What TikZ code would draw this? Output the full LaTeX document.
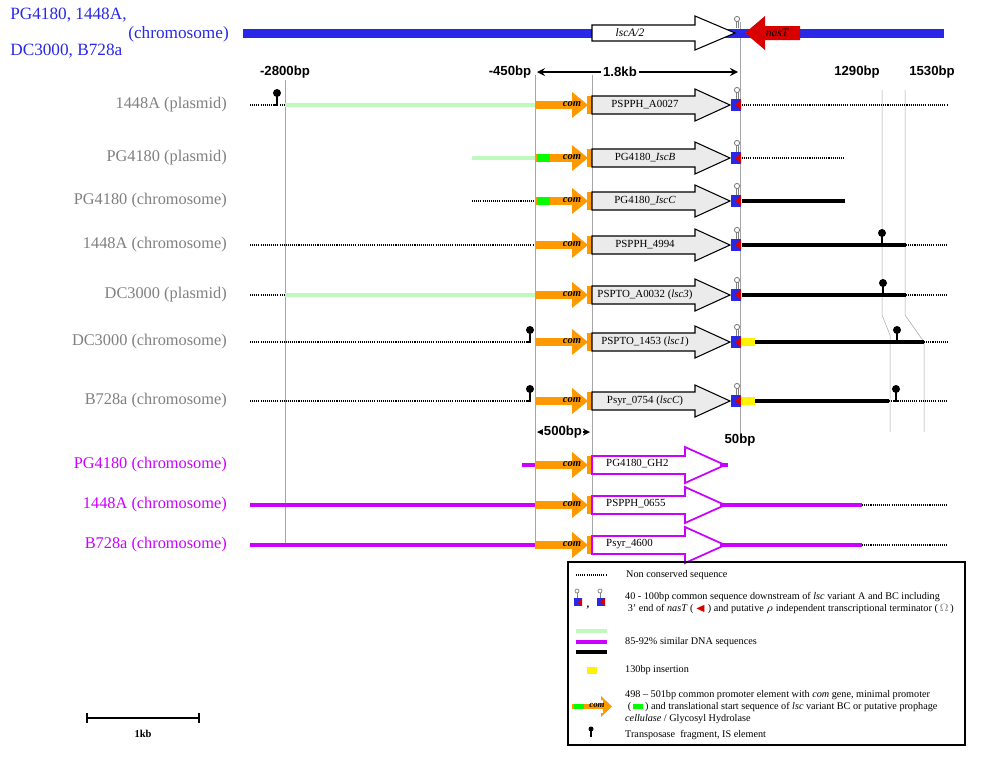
\documentclass[tikz,border=0pt]{standalone}
\usepackage{amssymb}
\usepackage{fontspec}
\setmainfont{Liberation Serif}
\newfontfamily\sansf{Liberation Sans}
\definecolor{lg}{RGB}{190,250,190}
\definecolor{org}{RGB}{255,153,0}
\definecolor{mag}{RGB}{204,0,255}
\definecolor{blu}{RGB}{40,40,230}
\definecolor{lab}{RGB}{128,128,128}
\definecolor{ggray}{RGB}{235,235,235}
\tikzset{
 dot/.style={line width=1.4pt,dash pattern=on 0.6pt off 0.6pt},
 lgl/.style={lg,line width=2pt},
 blk/.style={black,line width=2pt},
 magl/.style={mag,line width=2pt},
 guide/.style={gray!70,line width=0.3pt},
 rowlab/.style={anchor=east,font=\fontsize{9.3}{10}\selectfont,text=lab},
 bp/.style={font=\sansf\bfseries\fontsize{7.5}{8}\selectfont},
 glab/.style={font=\fontsize{6.2}{7}\selectfont},
 leg/.style={anchor=west,font=\fontsize{5.8}{7}\selectfont,align=left},
}
\newcommand\gArrow[4]{% y, label, fill, draw
 \draw[#4,fill=#3,line width=0.6pt] (592,{#1-9})--(695,{#1-9})--(695,{#1-16})--(730,#1)--(695,{#1+16})--(695,{#1+9})--(592,{#1+9})--cycle;
 \node[glab] at (645,#1) {#2};}
\newcommand\mArrow[2]{%
 \draw[mag,fill=white,line width=1pt] (592,{#1-9})--(685,{#1-9})--(685,{#1-18})--(725,#1)--(685,{#1+18})--(685,{#1+9})--(592,{#1+9})--cycle;
 \node[glab,anchor=west] at (600,{#1-1}) {#2};}
\newcommand\comEl[1]{%
 \fill[org] (535,{#1-4}) rectangle (574,{#1+4});
 \fill[org] (572,{#1-4})--(572,{#1-13})--(588,#1)--(572,{#1+13})--(572,{#1+4})--cycle;
 \fill[org] (587,{#1-9}) rectangle (592,{#1+9});
 \node[font=\itshape\bfseries\fontsize{6}{6}\selectfont] at (572,{#1-1}) {com};}
\newcommand\termEl[1]{%
 \fill[blu] (731,{#1-6}) rectangle (741,{#1+6});
 \fill[red!85!black] (741,{#1-5})--(735,#1)--(741,{#1+5})--cycle;
 \draw[gray,line width=0.5pt] (736,{#1-6})--(736,{#1-13}) (738,{#1-6})--(738,{#1-13});
 \draw[gray,fill=white,line width=0.5pt] (737,{#1-15}) circle (2.6);}
\newcommand\pin[2]{%
 \draw[line width=1.2pt] ({#1-3},#2)--(#1,#2)--(#1,{#2-10});
 \fill (#1,{#2-12}) circle (4);}
\begin{document}
\begin{tikzpicture}[x=0.02cm,y=-0.02cm]
\useasboundingbox (0,0) rectangle (1000,758);
\fill[white] (0,0) rectangle (1000,758);
% guides
\draw[guide] (285,80)--(285,545);
\draw[guide] (535,75)--(535,545);
\draw[guide] (592,75)--(592,545);
\draw[guide] (740,22)--(740,440);
\draw[guide] (882,90)--(882,315)--(890,335)--(890,432);
\draw[guide] (905,90)--(905,315)--(924,342)--(924,432);
% top chromosome
\node[anchor=west,text=blu,font=\fontsize{9.8}{11}\selectfont,inner sep=0] at (10,15) {PG4180, 1448A,};
\node[anchor=west,text=blu,font=\fontsize{9.8}{11}\selectfont,inner sep=0] at (10,51) {DC3000, B728a};
\node[anchor=west,text=blu,font=\fontsize{9.8}{11}\selectfont,inner sep=0] at (128,34) {(chromosome)};
\fill[blu] (243,29) rectangle (944,38);
\draw[black,fill=white,line width=0.6pt] (592,25)--(695,25)--(695,16)--(735,33)--(695,50)--(695,41)--(592,41)--cycle;
\node[glab,font=\itshape\fontsize{6.5}{7}\selectfont] at (630,33) {lscA/2};
\fill[red!85!black] (800,26)--(765,26)--(765,16)--(745,33)--(765,50)--(765,40)--(800,40)--cycle;
\node[font=\itshape\fontsize{6.5}{7}\selectfont] at (777,33) {nasT};
\draw[gray,line width=0.5pt] (736,28)--(736,21) (738,28)--(738,21);
\draw[gray,fill=white,line width=0.5pt] (737,19) circle (2.6);
% scale labels
\node[bp] at (285,72) {-2800bp};
\node[bp] at (510,72) {-450bp};
\node[bp] at (857,72) {1290bp};
\node[bp] at (932,72) {1530bp};
\draw[<->,>=stealth,line width=1pt] (537,72)--(738,72);
\node[bp,fill=white,inner sep=1pt] at (620,72) {1.8kb};
% rows
\node[rowlab] at (233,105) {1448A (plasmid)};
\draw[dot] (250,105)--(285,105); \draw[lgl] (285,105)--(535,105);
\pin{277}{105}
\comEl{105}\gArrow{105}{PSPPH\_A0027}{ggray}{black}\termEl{105}
\draw[dot] (742,105)--(948,105);

\node[rowlab] at (233,158) {PG4180 (plasmid)};
\draw[lgl] (472,158)--(535,158);
\comEl{158}\fill[green] (537,154) rectangle (550,162);
\gArrow{158}{PG4180\_\textit{IscB}}{ggray}{black}\termEl{158}
\draw[dot] (742,158)--(845,158);

\node[rowlab] at (233,201) {PG4180 (chromosome)};
\draw[dot] (472,201)--(535,201);
\comEl{201}\fill[green] (537,197) rectangle (550,205);
\gArrow{201}{PG4180\_\textit{IscC}}{ggray}{black}\termEl{201}
\draw[blk] (742,201)--(845,201);

\node[rowlab] at (233,245) {1448A (chromosome)};
\draw[dot] (250,245)--(535,245);
\comEl{245}\gArrow{245}{PSPPH\_4994}{ggray}{black}\termEl{245}
\draw[blk] (742,245)--(906,245); \draw[dot] (906,245)--(948,245);
\pin{882}{245}

\node[rowlab] at (233,295) {DC3000 (plasmid)};
\draw[dot] (250,295)--(285,295); \draw[lgl] (285,295)--(535,295);
\comEl{295}\gArrow{295}{PSPTO\_A0032 (\textit{lsc3})}{ggray}{black}\termEl{295}
\draw[blk] (742,295)--(906,295); \draw[dot] (906,295)--(948,295);
\pin{883}{295}

\node[rowlab] at (233,342) {DC3000 (chromosome)};
\draw[dot] (250,342)--(530,342);
\comEl{342}\gArrow{342}{PSPTO\_1453 (\textit{lsc1})}{ggray}{black}\termEl{342}
\fill[yellow] (741,338) rectangle (755,346);
\draw[blk] (755,342)--(924,342); \draw[dot] (924,342)--(948,342);
\pin{530}{342}\pin{897}{342}

\node[rowlab] at (233,401) {B728a (chromosome)};
\draw[dot] (250,401)--(530,401);
\comEl{401}\gArrow{401}{Psyr\_0754 (\textit{lscC})}{ggray}{black}\termEl{401}
\fill[yellow] (741,397) rectangle (755,405);
\draw[blk] (755,401)--(889,401); \draw[dot] (889,401)--(948,401);
\pin{530}{401}\pin{896}{401}

% 500bp
\draw[<->,>=stealth,line width=0.8pt] (537,432)--(590,432);
\node[bp,fill=white,inner sep=0.5pt] at (563,432) {500bp};
\node[bp] at (740,440) {50bp};

% magenta rows
\node[rowlab,text=mag] at (233,465) {PG4180 (chromosome)};
\draw[magl] (522,465)--(535,465);
\comEl{465}\mArrow{465}{PG4180\_GH2}
\draw[magl] (720,465)--(728,465);

\node[rowlab,text=mag] at (233,505) {1448A (chromosome)};
\draw[magl] (250,505)--(535,505);
\comEl{505}\mArrow{505}{PSPPH\_0655}
\draw[magl] (720,505)--(862,505); \draw[dot] (862,505)--(948,505);

\node[rowlab,text=mag] at (233,545) {B728a (chromosome)};
\draw[magl] (250,545)--(535,545);
\comEl{545}\mArrow{545}{Psyr\_4600}
\draw[magl] (720,545)--(862,545); \draw[dot] (862,545)--(948,545);

% legend
\draw[line width=0.8pt] (568,562) rectangle (965,745);
\draw[dot,line width=1pt] (576,575)--(606,575);
\node[leg] at (620,575) {Non conserved sequence};
\fill[blu] (574,598) rectangle (582,606); \fill[red!85!black] (582,598)--(578,602)--(582,606)--cycle;
\draw[gray,line width=0.4pt] (577,598)--(577,593); \draw[gray,fill=white,line width=0.4pt] (577,591) circle (2);
\node[font=\bfseries\fontsize{6}{6}\selectfont] at (588,608) {,};
\fill[blu] (597,598) rectangle (605,606); \fill[red!85!black] (605,598)--(600,602)--(605,606)--cycle;
\draw[gray,line width=0.4pt] (600,598)--(600,593); \draw[gray,fill=white,line width=0.4pt] (600,591) circle (2);
\node[leg] at (619,603) {40 - 100bp common sequence downstream of \textit{lsc} variant A and BC including\\
\ 3' end of \textit{nasT} (\,\textcolor{red!85!black}{$\blacktriangleleft$}\,) and putative $\rho$ independent transcriptional terminator (\,\textcolor{gray}{$\Omega$}\,)};
\draw[lgl] (576,631)--(607,631);
\draw[magl] (576,642)--(607,642);
\draw[blk] (576,652)--(607,652);
\node[leg] at (619,642) {85-92\% similar DNA sequences};
\fill[yellow] (587,667) rectangle (597,674);
\node[leg] at (619,670) {130bp insertion};
\fill[org] (572,704) rectangle (603,709);
\fill[green] (574,704) rectangle (584,709);
\fill[org] (601,700)--(601,696)--(612,706.5)--(601,717)--(601,713)--(603,713)--(603,700)--cycle;
\node[font=\itshape\bfseries\fontsize{5}{5}\selectfont] at (597,705) {com};
\node[leg] at (619,707) {498 -- 501bp common promoter element with \textit{com} gene, minimal promoter\\
\ (\,\textcolor{green}{\rule{6pt}{3pt}}\,) and translational start sequence of \textit{lsc} variant BC or putative prophage\\
\textit{cellulase} / Glycosyl Hydrolase};
\draw[line width=1pt] (591,737)--(591,731); \fill (591,729) circle (2.5);
\node[leg] at (619,735) {Transposase\ \ fragment, IS element};
% scale bar
\draw[line width=0.8pt] (87,713)--(87,723) (199,713)--(199,723) (87,718)--(199,718);
\node[font=\bfseries\fontsize{6}{6}\selectfont] at (143,734) {1kb};
\end{tikzpicture}
\end{document}
